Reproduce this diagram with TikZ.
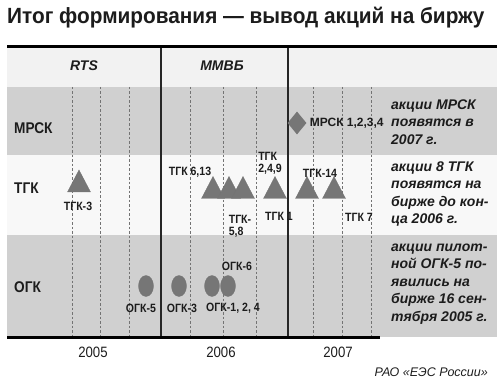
\documentclass[tikz,border=0pt]{standalone}
\usepackage{fontspec}
\setmainfont{Liberation Sans}[FakeStretch=0.88]
\newfontfamily\widefont{Liberation Sans}
\newfontfamily\titlefont{Liberation Sans}[FakeStretch=0.945]
\usetikzlibrary{shapes.geometric,positioning}
\definecolor{bandgray}{HTML}{D0D0D0}
\definecolor{headgray}{HTML}{F2F2F2}
\definecolor{rowwhite}{HTML}{F8F8F8}
\definecolor{markgray}{HTML}{767676}
\definecolor{ink}{HTML}{1C1C1C}

\begin{document}
\begin{tikzpicture}[x=1pt,y=-1pt,
    tgk/.style={isosceles triangle,isosceles triangle stretches,shape border rotate=90,
      minimum width=23pt,minimum height=22pt,inner sep=0pt,fill=markgray,draw=black!55,line width=0.3pt},
    ogk/.style={ellipse,minimum width=15pt,minimum height=21pt,inner sep=0pt,fill=markgray,draw=black!55,line width=0.3pt},
    mrsk/.style={diamond,minimum width=19pt,minimum height=23pt,inner sep=0pt,fill=markgray},
    lbl/.style={font=\bfseries\fontsize{12}{12}\selectfont,text=ink,inner sep=0pt,align=left},
    rowname/.style={font=\bfseries\fontsize{15.5}{15.5}\selectfont,text=ink,inner sep=0pt,anchor=west},
    market/.style={font=\widefont\bfseries\itshape\fontsize{14}{14}\selectfont,text=ink,inner sep=0pt},
    yearlbl/.style={font=\fontsize{15}{15}\selectfont,text=ink,inner sep=0pt},
    note/.style={font=\widefont\bfseries\itshape\fontsize{14}{17.4}\selectfont,text=ink,inner sep=0pt,align=left,anchor=west},
    qline/.style={dashed,dash pattern=on 2.5pt off 2pt,black!55,line width=0.55pt},
    yline/.style={black!85,line width=1.3pt}]

  \useasboundingbox (0,0) rectangle (500,385);

  % title
  \node[font=\titlefont\bfseries\fontsize{22}{22}\selectfont,text=ink,anchor=west,inner sep=0pt] (title) at (7,18)
    {Итог формирования — вывод акций на биржу};

  % bands
  \fill[headgray] (7,47) rectangle (497,87);
  \fill[bandgray] (7,87) rectangle (497,155);
  \fill[rowwhite] (7,155) rectangle (497,235);
  \fill[bandgray] (7,235) rectangle (497,337);

  % quarters and years
  \foreach \x in {72,100,129,190,223,256,313,342,371}
    \draw[qline] (\x,87) -- (\x,337);
  \draw[yline] (161,47) -- (161,337);
  \draw[yline] (288,47) -- (288,337);
  \draw[black,line width=3pt] (7,47) -- (497,47);
  \draw[black,line width=3pt] (7,337) -- (380,337);

  % exchanges
  \node[market] (rts) at (84,66) {RTS};
  \node[market] (mmvb) at (222,66) {ММВБ};

  % rows
  \node[rowname] (rmrsk) at (14,128) {МРСК};
  \node[rowname] (rtgk) at (14,188) {ТГК};
  \node[rowname] (rogk) at (14,287) {ОГК};

  % MRSK
  \node[mrsk] (m1) at (297,123) {};
  \node[lbl,font=\widefont\bfseries\fontsize{12}{12}\selectfont,right=3pt of m1] (m1l) {МРСК 1,2,3,4};

  % TGK
  \node[tgk] (t3) at (79,185) {};
  \node[lbl] (t3l) at (78,206) {ТГК-3};
  \node[tgk] (t6) at (213,191.5) {};
  \node[tgk] (t5) at (229,191.5) {};
  \node[tgk] (t8) at (243,191.5) {};
  \node[tgk] (t1) at (275,191.5) {};
  \node[tgk] (t14) at (307,191.5) {};
  \node[tgk] (t7) at (334,191.5) {};
  \node[lbl] (t6l) at (190,172) {ТГК 6,13};
  \node[lbl] (t5l) at (240,226) {ТГК-\\5,8};
  \node[lbl] (t2l) at (270,163) {ТГК\\2,4,9};
  \node[lbl] (t1l) at (279,216) {ТГК 1};
  \node[lbl] (t14l) at (320,173) {ТГК-14};
  \node[lbl] (t7l) at (359,217) {ТГК 7};

  % OGK
  \node[ogk] (o5) at (146,286) {};
  \node[ogk] (o3) at (179,286) {};
  \node[ogk] (o1) at (212,286) {};
  \node[ogk] (o6) at (228,286) {};
  \node[lbl] (o5l) at (141,308) {ОГК-5};
  \node[lbl] (o3l) at (182,308) {ОГК-3};
  \node[lbl] (o1l) at (233,308) {ОГК-1, 2, 4};
  \node[lbl] (o6l) at (237,266) {ОГК-6};

  % notes
  \node[note] (nm) at (391,122) {акции МРСК\\появятся в\\2007 г.};
  \node[note] (nt) at (391,194) {акции 8 ТГК\\появятся на\\бирже до кон-\\ца 2006 г.};
  \node[note] (no) at (391,284) {акции пилот-\\ной ОГК-5 по-\\явились на\\бирже 16 сен-\\тября 2005 г.};

  % years
  \node[yearlbl] (y5) at (93,352) {2005};
  \node[yearlbl] (y6) at (221,352) {2006};
  \node[yearlbl] (y7) at (338,352) {2007};

  \node[font=\widefont\itshape\fontsize{12.5}{12.5}\selectfont,text=ink,anchor=east,inner sep=0pt] (src) at (488,372)
    {РАО «ЕЭС России»};
\end{tikzpicture}
\end{document}
